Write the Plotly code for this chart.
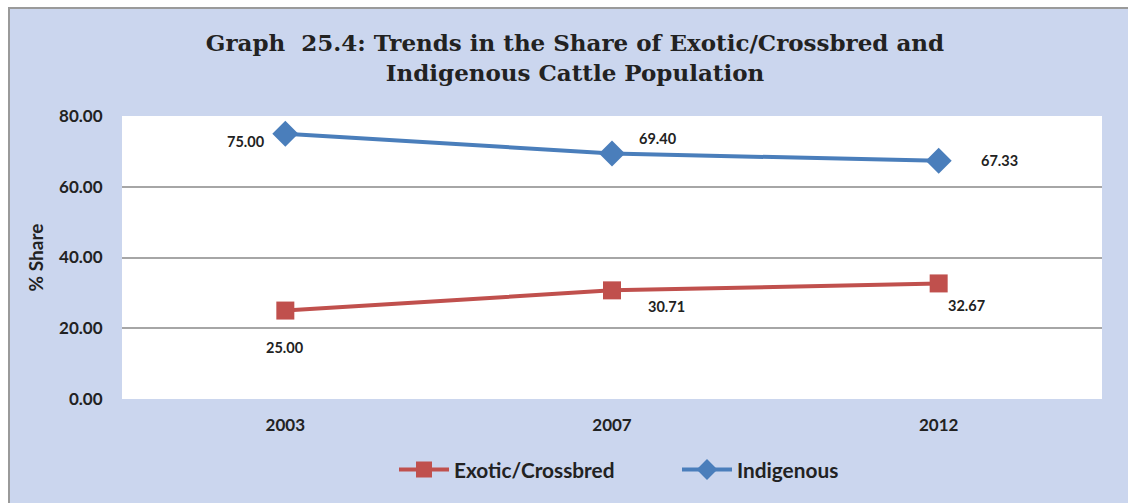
import plotly.graph_objects as go

years = ["2003", "2007", "2012"]
exotic = [25.00, 30.71, 32.67]
indigenous = [75.00, 69.40, 67.33]
y_ticks = [0, 20, 40, 60, 80]

W, H = 1128, 503
L, R, T, B = 122, 26, 116, 104
pw, ph = W - L - R, H - T - B

def px(x):
    return (x - L) / pw

def py(y):
    return (H - B - y) / ph

BG = "#cbd6ee"
INK = "#222222"

fig = go.Figure()
fig.add_trace(go.Scatter(
    x=years, y=exotic, name="Exotic/Crossbred", mode="lines+markers",
    line=dict(color="#C0504D", width=4),
    marker=dict(symbol="square", size=18, color="#C0504D"),
))
fig.add_trace(go.Scatter(
    x=years, y=indigenous, name="Indigenous", mode="lines+markers",
    line=dict(color="#4A7EBB", width=4),
    marker=dict(symbol="diamond", size=20, color="#4A7EBB"),
))

# data-label offsets (pixels) relative to each point
exo_off = [(0, -37), (54, -16), (28, -22)]
ind_off = [(-39, -8), (46, 15), (61, 0)]
annotations = []
for vals, offs in ((exotic, exo_off), (indigenous, ind_off)):
    for i, (v, (dx, dy)) in enumerate(zip(vals, offs)):
        annotations.append(dict(
            x=i, y=v, xref="x", yref="y", text=f"{v:.2f}", showarrow=False,
            xshift=dx, yshift=dy, xanchor="center", yanchor="middle",
            font=dict(family="Lato", size=14.5, color=INK, weight="bold"),
        ))

shapes = [
    dict(type="rect", xref="paper", yref="paper", x0=px(0), x1=px(W), y0=py(0), y1=py(8),
         fillcolor="white", line=dict(width=0), layer="below"),
    dict(type="rect", xref="paper", yref="paper", x0=px(0), x1=px(9), y0=py(H), y1=py(0),
         fillcolor="white", line=dict(width=0), layer="below"),
    dict(type="rect", xref="paper", yref="paper", x0=px(9), x1=px(W + 5), y0=py(H + 5), y1=py(8),
         fillcolor="rgba(0,0,0,0)", line=dict(color="#9a9a9a", width=2), layer="above"),
]

fig.update_layout(
    width=W, height=H,
    margin=dict(l=L, r=R, t=T, b=B, autoexpand=False),
    paper_bgcolor=BG, plot_bgcolor="white",
    title=dict(
        text="Graph  25.4: Trends in the Share of Exotic/Crossbred and<br>Indigenous Cattle Population",
        font=dict(family="DejaVu Serif", size=23, color=INK, weight="bold"),
        x=575 / W, xanchor="center", y=1 - 51 / H, yanchor="middle",
    ),
    xaxis=dict(
        type="category", range=[-0.5, 2.5], showgrid=False, zeroline=False,
        showline=False, ticks="outside", ticklen=11, tickcolor="rgba(0,0,0,0)",
        tickfont=dict(family="Lato", size=17, color=INK, weight="bold"),
    ),
    yaxis=dict(
        range=[0, 80], tickvals=y_ticks, tickformat=".2f",
        showgrid=True, gridcolor="#a6a6a6", gridwidth=2,
        zeroline=False, showline=False, ticks="outside", ticklen=15, tickcolor="rgba(0,0,0,0)",
        tickfont=dict(family="Lato", size=17, color=INK, weight="bold"),
        title=dict(text="% Share", font=dict(family="Lato", size=19, color=INK, weight="bold"), standoff=10),
    ),
    showlegend=True,
    legend=dict(
        orientation="h", x=px(394), xanchor="left", y=py(470), yanchor="middle",
        font=dict(family="Lato", size=20.8, color=INK, weight="bold"),
        bgcolor="rgba(0,0,0,0)", itemwidth=50, entrywidth=218, traceorder="normal",
    ),
    annotations=annotations,
    shapes=shapes,
)

fig.write_html("out.html", config={"displayModeBar": False},
               post_script="document.body.style.margin='0';document.body.style.padding='0';")
